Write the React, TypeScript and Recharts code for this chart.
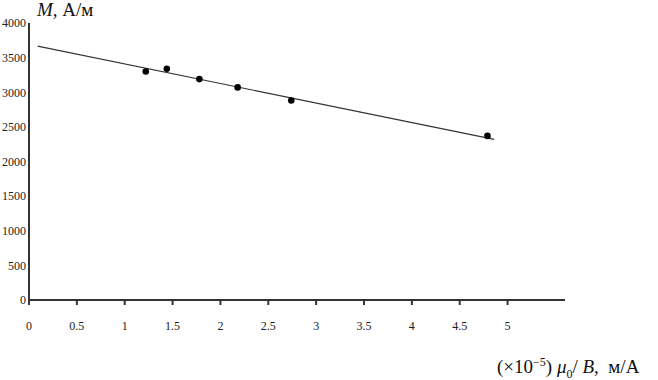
import React from "react";
import { ComposedChart, XAxis, YAxis, Scatter, Line } from "recharts";

const xTicks = [0, 0.5, 1, 1.5, 2, 2.5, 3, 3.5, 4, 4.5, 5];
const yTicks = [0, 500, 1000, 1500, 2000, 2500, 3000, 3500, 4000];

const pointX = [1.22, 1.44, 1.78, 2.18, 2.74, 4.79];
const pointY = [3300, 3340, 3190, 3070, 2880, 2370];

const fitX = [0.09, 4.86];
const fitY = [3665, 2320];

const points = pointX.map((x, i) => ({ x, y: pointY[i] }));
const fit = fitX.map((x, i) => ({ x, y: fitY[i] }));

const serif = "'Liberation Serif', 'DejaVu Serif', serif";

export default function App() {
  return (
    <div style={{ position: "absolute", left: 0, top: 0, width: 658, height: 380, background: "#fff", fontFamily: serif }}>
      <ComposedChart
        width={658}
        height={380}
        margin={{ top: 23, right: 93, bottom: 0, left: 0 }}
      >
        <XAxis
          type="number"
          dataKey="x"
          domain={[0, 5.6]}
          ticks={xTicks}
          tickFormatter={(v: number) => String(v)}
          allowDataOverflow
          stroke="#333"
          strokeWidth={2}
          tickSize={5}
          tickMargin={16}
          tick={{ fill: "#222", fontSize: 12, fontFamily: serif }}
          height={80}
        />
        <YAxis
          type="number"
          dataKey="y"
          domain={[0, 4000]}
          ticks={yTicks}
          width={29}
          stroke="#333"
          strokeWidth={2}
          tickLine={false}
          tickSize={0}
          tickMargin={3}
          tick={{ fill: "#222", fontSize: 12, fontFamily: serif }}
        />
        <Line
          data={fit}
          dataKey="y"
          type="linear"
          stroke="#333"
          strokeWidth={1.2}
          dot={false}
          isAnimationActive={false}
        />
        <Scatter
          data={points}
          dataKey="y"
          fill="#000"
          shape={(p: any) => <circle cx={p.cx} cy={p.cy} r={3.3} fill="#000" />}
          isAnimationActive={false}
        />
      </ComposedChart>
      <div style={{ position: "absolute", left: 37, top: 0, fontSize: 19, lineHeight: "20px", color: "#111", whiteSpace: "nowrap" }}>
        <i>M</i>, А/м
      </div>
      <div style={{ position: "absolute", left: 497, top: 357, fontSize: 19, lineHeight: "20px", color: "#111", whiteSpace: "nowrap" }}>
        (×10<sup style={{ fontSize: 12, lineHeight: 0 }}>−5</sup>) <i>μ</i><sub style={{ fontSize: 12, lineHeight: 0 }}>0</sub>/ <i>B</i>, &nbsp;м/А
      </div>
    </div>
  );
}
